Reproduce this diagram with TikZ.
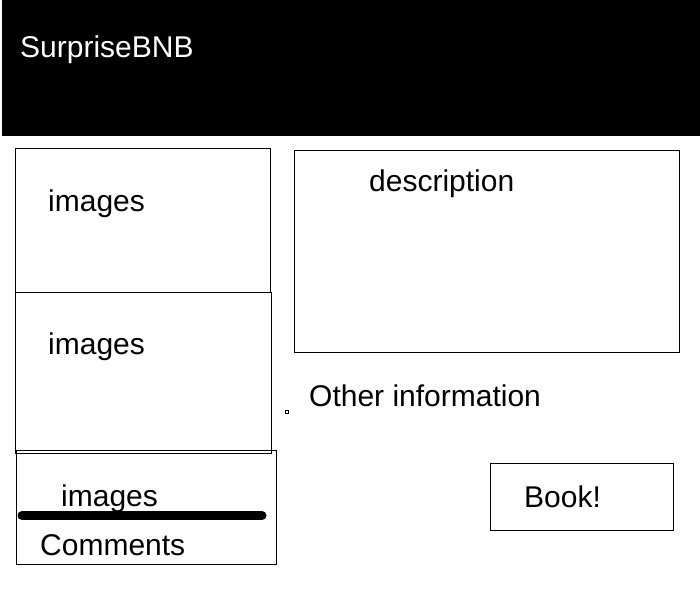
\documentclass[tikz,border=0pt]{standalone}
\usepackage{fontspec}
\setmainfont{Liberation Sans}
\usetikzlibrary{positioning}

\begin{document}
\begin{tikzpicture}[
  x=1pt,y=-1pt,
  box/.style={draw,line width=0.9pt},
  lbl/.style={anchor=base west,inner sep=0pt,font=\fontsize{30}{35}\selectfont}
]
\useasboundingbox (0,0) rectangle (700,600);
\fill[black] (2,0) rectangle (700,136);
\node[lbl,text=white] (title) at (20,57) {SurpriseBNB};
\draw[box] (15,148) rectangle (270,292);
\draw[box] (15,292) rectangle (271,453);
\draw[box] (16,450) rectangle (276,564);
\draw[box] (294,150) rectangle (679,352);
\draw[box] (490,463) rectangle (673,530);
\draw[line width=0.6pt] (285.5,410.5) rectangle (288.5,413.5);
\node[lbl] (img1) at (48,211) {images};
\node[lbl] (img2) at (48,354) {images};
\node[lbl] (img3) at (61,506) {images};
\node[lbl] (comm) at (40,555) {Comments};
\node[lbl] (desc) at (369,191) {description};
\node[lbl] (info) at (309,406) {Other information};
\node[lbl] (book) at (524,507) {Book!};
\coordinate (barL) at (22,515.5);
\coordinate (barR) at (262,515.5);
\draw[line width=9pt,line cap=round] (barL) -- (barR);
\end{tikzpicture}
\end{document}
